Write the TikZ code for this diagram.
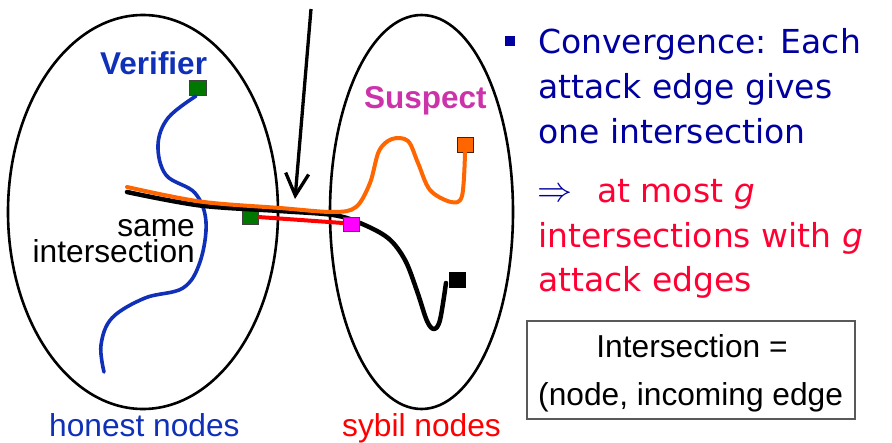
\documentclass[tikz,border=0pt]{standalone}
\usepackage{graphicx}
\usepackage{fontspec}
\setmainfont{Liberation Sans}
\newfontfamily\comicfont{DejaVu Sans}
\usetikzlibrary{arrows.meta}
\definecolor{hblue}{RGB}{16,48,184}
\definecolor{tblue}{RGB}{0,0,160}
\definecolor{tred}{RGB}{255,0,51}
\definecolor{sred}{RGB}{255,0,0}
\definecolor{smag}{RGB}{204,51,170}
\definecolor{orng}{RGB}{255,102,0}
\definecolor{dgreen}{RGB}{0,120,0}
\definecolor{mgnt}{RGB}{255,0,255}
\tikzset{
  lab/.style={inner sep=0pt, font=\fontsize{31.7}{26}\selectfont},
  blab/.style={inner sep=0pt, font=\fontsize{31.5}{26}\bfseries\selectfont},
  rtxt/.style={inner sep=0pt, anchor=base west, font=\comicfont\fontsize{33}{45}\selectfont},
  sq/.style={draw=black!75, line width=0.8pt, minimum width=16pt, minimum height=15pt, inner sep=0pt},
  region/.style={draw=black, line width=2.6pt},
  walk/.style={line width=4pt, line cap=round, line join=round}
}
\begin{document}
\begin{tikzpicture}[x=1pt,y=-1pt]
\useasboundingbox (0,0) rectangle (892,442);
% regions
\draw[region] (143,212) ellipse [x radius=135, y radius=197];
\draw[region] (421.5,212) ellipse [x radius=91.5, y radius=197];
% labels
\node[blab, text=hblue, anchor=base west] (verlab) at (100,74) {Verifier};
\node[blab, text=smag, anchor=base west] (suslab) at (364,108) {Suspect};
\node[lab, align=right, anchor=base east] (same) at (195,262) {same\\intersection};
\node[lab, text=hblue, anchor=base west] (honest) at (49,436) {honest nodes};
\node[lab, text=sred, anchor=base west] (sybil) at (342,436) {sybil nodes};
% squares (under walks)
\node[sq, fill=dgreen, minimum width=17pt] (ver) at (198,88) {};
\node[sq, fill=dgreen, minimum height=14pt] (gi) at (250,217) {};
% blue walk
\coordinate (bend) at (104,372);
\draw[walk, line width=3.6pt, draw=hblue] plot[smooth, tension=0.6] coordinates {(196,96) (168,118) (158,145) (166,175) (195,193) (206,222) (200,262) (183,288) (145,298) (112,318) (101,345) (bend)};
% red segment
\coordinate (mw) at (343,223);
\draw[line width=4pt, draw=sred] (gi.east) -- (mw);
% black walk
\coordinate (kstart) at (127,192);
\node[sq, fill=black, draw=black, minimum width=16pt] (bsq) at (457,280) {};
\draw[walk, line width=4.5pt, draw=black] plot[smooth, tension=0.55] coordinates {(kstart) (200,205.5) (280,211) (333,215) (360,223) (388,238) (405,260) (417,291) (427,321) (434,329) (440,320) (446,283)};
% orange walk
\coordinate (ostart) at (127,187);
\node[sq, fill=orng, draw=black!70!orng] (osq) at (465,145) {};
\draw[walk, line width=4pt, draw=orng] plot[smooth, tension=0.55] coordinates {(ostart) (200,201.5) (280,208) (333,212) (356,207) (370,183) (379,151) (392,139) (408,141) (418,163) (430,190) (451,202) (462,196) (465,153)};
% magenta square on top
\node[sq, fill=mgnt, minimum width=16pt, minimum height=14pt] (mi) at (351,224.5) {};
% arrow
\coordinate (atop) at (311,9);
\coordinate (atip) at (295,199);
\draw[line width=3.3pt, -{Straight Barb[length=22pt,width=23pt,line width=3.3pt]}] (atop) -- (atip);
% right text
\node[fill=tblue, minimum size=10pt, inner sep=0pt] (bul) at (510,41) {};
\node[rtxt, text=tblue] (l1) at (538,53) {Convergence: Each};
\node[rtxt, text=tblue] (l2) at (538,98) {attack edge gives};
\node[rtxt, text=tblue] (l3) at (538,143) {one intersection};
\node[inner sep=0pt, anchor=south west, text=tblue] (imp) at (537,202) {\resizebox{35pt}{!}{$\Rightarrow$}};
\node[rtxt, text=tred] (l4) at (597,202) {at most \textit{g}};
\node[rtxt, text=tred] (l5) at (538,247) {intersections with \textit{g}};
\node[rtxt, text=tred] (l6) at (538,291) {attack edges};
% box
\draw[draw=black!65, line width=1.2pt] (527,321) rectangle (855,419);
\node[lab, anchor=base] (b1) at (692,357) {Intersection =};
\node[lab, anchor=base west] (b2) at (538,405) {(node, incoming edge};
\end{tikzpicture}
\end{document}
